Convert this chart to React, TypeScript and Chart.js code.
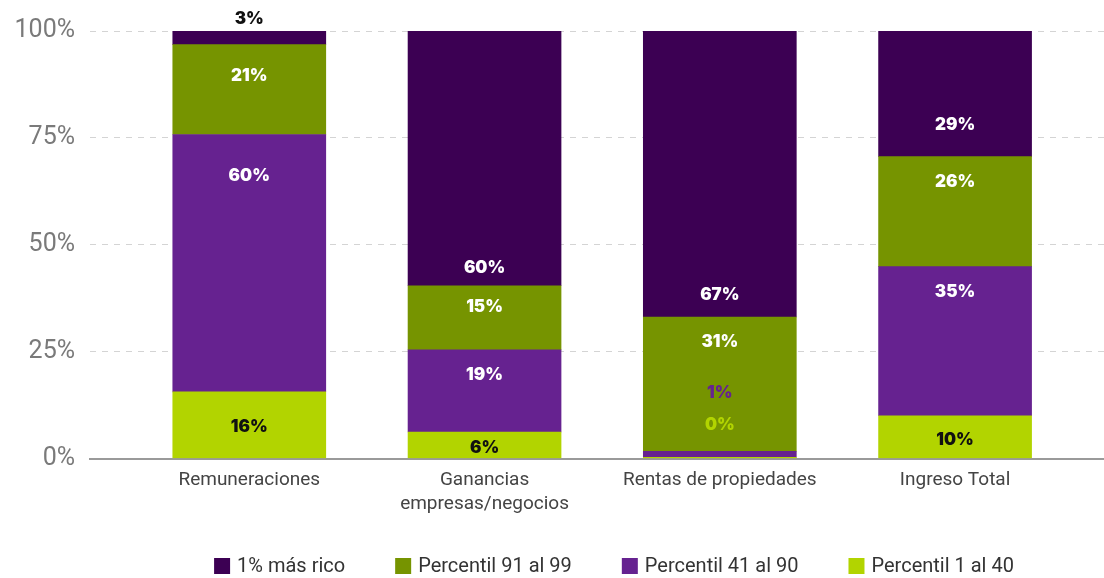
import React, { useEffect, useRef } from "react";
import { Chart, registerables } from "chart.js";

Chart.register(...registerables);

const categories: (string | string[])[] = [
  "Remuneraciones",
  ["Ganancias", "empresas/negocios"],
  "Rentas de propiedades",
  "Ingreso Total",
];
const categoryIndex = [0, 1, 2, 3];
const yTicks = [0, 25, 50, 75, 100];

// Series values (share of each income source, %)
const pct1to40 = [15.6, 6.2, 0.3, 10.0];
const pct41to90 = [60.2, 19.2, 1.4, 34.9];
const pct91to99 = [21.0, 15.0, 31.4, 25.7];
const top1 = [3.2, 59.6, 66.9, 29.4];

// Value-label anchors (in % units of the y axis)
const labelAt1to40 = [7.8, 2.9, 8.3, 4.8];
const labelAt41to90 = [66.5, 20.0, 15.8, 39.4];
const labelAt91to99 = [89.9, 35.9, 27.7, 65.2];
const labelAtTop1 = [103.3, 45.0, 38.7, 78.5];

const COL_TOP1 = "#3c0053";
const COL_91 = "#769400";
const COL_41 = "#662290";
const COL_1 = "#b2d400";

const labelColors1to40 = ["#111111", "#111111", COL_1, "#111111"];
const labelColors41to90 = ["#ffffff", "#ffffff", COL_41, "#ffffff"];
const labelColors91to99 = ["#ffffff", "#ffffff", "#ffffff", "#ffffff"];
const labelColorsTop1 = ["#111111", "#ffffff", "#ffffff", "#ffffff"];

const valueLabelPlugin = {
  id: "valueLabels",
  afterDatasetsDraw(chart: any) {
    const { ctx, scales } = chart;
    const xs = scales.x;
    const ys = scales.y;
    const info = [
      { vals: pct1to40, at: labelAt1to40, cols: labelColors1to40 },
      { vals: pct41to90, at: labelAt41to90, cols: labelColors41to90 },
      { vals: pct91to99, at: labelAt91to99, cols: labelColors91to99 },
      { vals: top1, at: labelAtTop1, cols: labelColorsTop1 },
    ];
    ctx.save();
    ctx.font = "900 17px Inter, 'Open Sans', sans-serif";
    ctx.textAlign = "center";
    ctx.textBaseline = "middle";
    info.forEach((d) => {
      d.vals.forEach((v, j) => {
        const x = xs.getPixelForValue(categoryIndex[j]);
        const y = ys.getPixelForValue(d.at[j]) + 2;
        ctx.fillStyle = d.cols[j];
        ctx.fillText(Math.round(v) + "%", x, y);
      });
    });
    ctx.restore();
  },
};

const legendPlugin = {
  id: "customLegend",
  afterDraw(chart: any) {
    const { ctx } = chart;
    const items = [...chart.data.datasets].reverse();
    ctx.save();
    ctx.font = "20px Roboto, sans-serif";
    ctx.textBaseline = "middle";
    ctx.textAlign = "left";
    const box = 16;
    const gapBoxText = 7;
    const gapItems = 50;
    const widths = items.map((d: any) => box + gapBoxText + ctx.measureText(d.label).width);
    const total = widths.reduce((a: number, b: number) => a + b, 0) + gapItems * (items.length - 1);
    let x = 614 - total / 2;
    const y = 566;
    items.forEach((d: any, i: number) => {
      ctx.fillStyle = d.backgroundColor;
      ctx.fillRect(x, y - box / 2, box, box);
      ctx.fillStyle = "#333333";
      ctx.fillText(d.label, x + box + gapBoxText, y + 1);
      x += widths[i] + gapItems;
    });
    ctx.restore();
  },
};

export default function App() {
  const ref = useRef<HTMLCanvasElement>(null);
  useEffect(() => {
    if (!ref.current) return;
    const mk = (arr: number[]) => arr.map((v, i) => ({ x: categoryIndex[i], y: v }));
    const chart = new Chart(ref.current, {
      type: "bar",
      data: {
        datasets: [
          { label: "Percentil 1 al 40", data: mk(pct1to40), backgroundColor: COL_1 },
          { label: "Percentil 41 al 90", data: mk(pct41to90), backgroundColor: COL_41 },
          { label: "Percentil 91 al 99", data: mk(pct91to99), backgroundColor: COL_91 },
          { label: "1% más rico", data: mk(top1), backgroundColor: COL_TOP1 },
        ] as any,
      },
      options: {
        animation: false,
        responsive: false,
        devicePixelRatio: 1,
        barThickness: 153,
        borderWidth: 0,
        layout: { padding: { top: 31, left: 0, right: 0, bottom: 0 } },
        plugins: {
          tooltip: { enabled: false },
          legend: { display: false },
        },
        scales: {
          x: {
            type: "linear",
            stacked: true,
            offset: false,
            min: -0.677,
            max: 3.633,
            afterBuildTicks: (scale: any) => {
              scale.ticks = categoryIndex.map((v) => ({ value: v }));
            },
            afterFit: (scale: any) => {
              scale.height = 119.5;
            },
            grid: { display: false, drawTicks: false },
            border: { display: true, color: "#9a9a9a", width: 2 },
            ticks: {
              padding: 10,
              color: "#444444",
              autoSkip: false,
              maxRotation: 0,
              font: { size: 19, family: "Roboto, sans-serif", lineHeight: 1.27 },
              callback: (v: any) => categories[v as number] as any,
            },
          },
          y: {
            stacked: true,
            min: 0,
            max: 100,
            afterBuildTicks: (scale: any) => {
              scale.ticks = yTicks.map((v) => ({ value: v }));
            },
            afterFit: (scale: any) => {
              scale.width = 90;
            },
            grid: {
              color: "#d4d4d4",
              lineWidth: 1,
              drawTicks: false,
            },
            border: { display: false, dash: [6, 6] },
            ticks: {
              padding: 15,
              color: "#7a7a7a",
              font: { size: 25, family: "Roboto, sans-serif", weight: "400" },
              callback: (v: any) => v + "%",
            },
          },
        },
      } as any,
      plugins: [valueLabelPlugin, legendPlugin],
    });
    return () => chart.destroy();
  }, []);
  return (
    <div style={{ position: "absolute", left: 0, top: 0, width: 1104, height: 578, background: "#fff" }}>
      <canvas ref={ref} width={1104} height={578} style={{ display: "block" }} />
    </div>
  );
}
